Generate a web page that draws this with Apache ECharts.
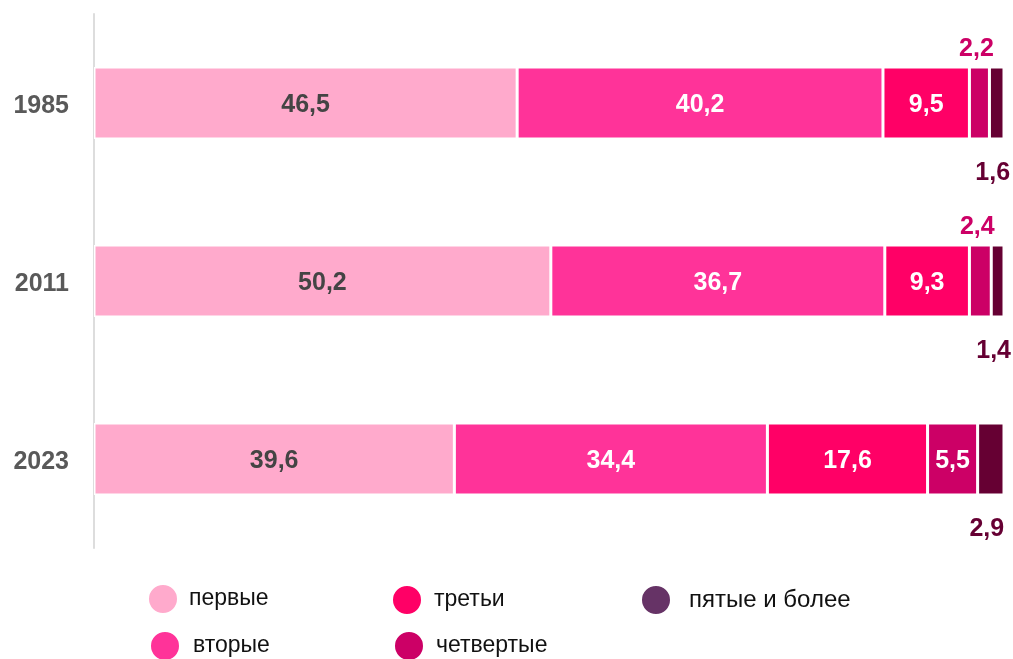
<!DOCTYPE html>
<html>
<head>
<meta charset="utf-8">
<style>
  html, body { margin: 0; padding: 0; background: #fff; }
  #chart { width: 1013px; height: 659px; }
</style>
<script src="https://cdn.jsdelivr.net/npm/echarts@6/dist/echarts.min.js"></script>
</head>
<body>
<div id="chart"></div>
<script>
// Birth order shares by year, %
const years = ['1985', '2011', '2023'];
const seriesNames = ['первые', 'вторые', 'третьи', 'четвертые', 'пятые и более'];
const firstBirths = [46.5, 50.2, 39.6];
const secondBirths = [40.2, 36.7, 34.4];
const thirdBirths = [9.5, 9.3, 17.6];
const fourthBirths = [2.2, 2.4, 5.5];
const fifthPlusBirths = [1.6, 1.4, 2.9];

const barColors = ['#FFAACC', '#FF3399', '#FF0066', '#CC0066', '#660033'];
const legendColors = ['#FFAACC', '#FF3399', '#FF0066', '#CC0066', '#663366'];

const fmt = v => String(v).replace('.', ',');
const font = '"Liberation Sans", Arial, sans-serif';

const baseLabel = {
  show: true,
  fontFamily: font,
  fontSize: 25,
  fontWeight: 'bold',
  formatter: p => fmt(p.value)
};

function makeSeries(name, values, color, labelFor) {
  return {
    name: name,
    type: 'bar',
    stack: 'total',
    barWidth: 72,
    itemStyle: { color: color, borderColor: '#fff', borderWidth: 1.5 },
    emphasis: { disabled: true },
    data: values.map((v, i) => ({ value: v, label: labelFor(i) }))
  };
}

const inside = c => () => Object.assign({}, baseLabel, { position: 'inside', color: c, offset: [0, 2] });

const series = [
  makeSeries(seriesNames[0], firstBirths, barColors[0], inside('#444444')),
  makeSeries(seriesNames[1], secondBirths, barColors[1], inside('#ffffff')),
  makeSeries(seriesNames[2], thirdBirths, barColors[2], inside('#ffffff')),
  makeSeries(seriesNames[3], fourthBirths, barColors[3], i => i === 2
    ? Object.assign({}, baseLabel, { position: 'inside', color: '#ffffff', offset: [0, 2] })
    : Object.assign({}, baseLabel, { position: 'top', distance: 8, color: '#CC0066', offset: [-3, 3] })),
  makeSeries(seriesNames[4], fifthPlusBirths, barColors[4], () =>
    Object.assign({}, baseLabel, { position: 'bottom', distance: 20, color: '#660033', offset: [-4, 2] }))
];

// One legend block per entry so the two-row layout can be placed freely
const legendSpots = [
  { left: 147, top: 583, gap: 6 },
  { left: 149, top: 630, gap: 8 },
  { left: 391, top: 584, gap: 7 },
  { left: 393, top: 630, gap: 7 },
  { left: 640, top: 584, gap: 13 }
];
const legends = seriesNames.map((n, i) => ({
  left: legendSpots[i].left,
  top: legendSpots[i].top,
  padding: 0,
  icon: 'circle',
  itemWidth: 30,
  itemHeight: 30,
  selectedMode: false,
  textStyle: {
    fontFamily: font,
    fontSize: i === 4 ? 24 : 23,
    color: '#111',
    padding: [0, 0, 0, legendSpots[i].gap]
  },
  data: [{ name: n, itemStyle: { color: legendColors[i] } }]
}));

const chart = echarts.init(document.getElementById('chart'), null, { renderer: 'canvas' });
chart.setOption({
  animation: false,
  backgroundColor: '#fff',
  grid: { left: 94, right: 9, top: 14, bottom: 111, containLabel: false },
  xAxis: {
    type: 'value',
    min: 0,
    max: 100,
    show: false
  },
  yAxis: {
    type: 'category',
    inverse: true,
    data: years,
    axisLine: { show: true, lineStyle: { color: '#dddddd', width: 2 } },
    axisTick: { show: false },
    axisLabel: {
      margin: 25,
      formatter: '{y|{value}}',
      rich: {
        y: {
          padding: [6, 0, 0, 0],
          fontFamily: font,
          fontSize: 25,
          fontWeight: 'bold',
          color: '#595959'
        }
      }
    }
  },
  legend: legends,
  series: series
});
</script>
</body>
</html>
